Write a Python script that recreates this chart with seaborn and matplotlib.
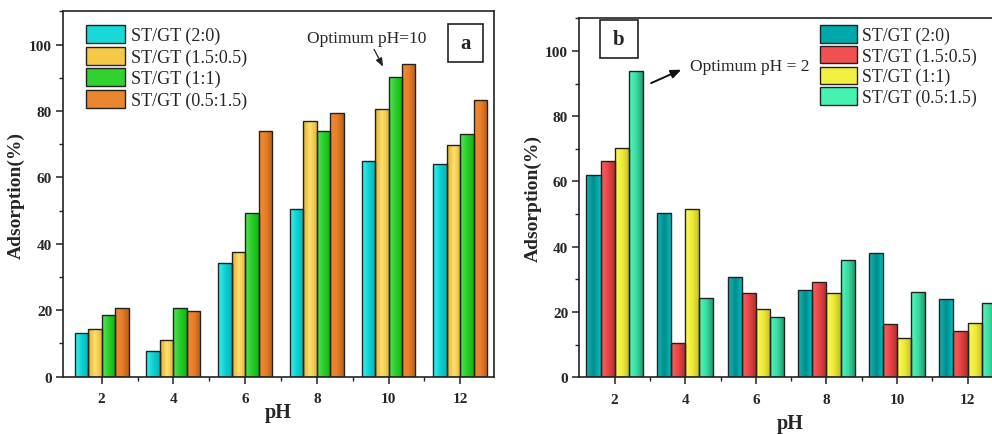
import numpy as np
import pandas as pd
import seaborn as sns
import matplotlib
matplotlib.use("Agg")
import matplotlib.pyplot as plt
from matplotlib.colors import to_rgb
from matplotlib.patches import Patch, Rectangle
from matplotlib.ticker import MultipleLocator

# ---------------- data ----------------
ph_labels = ["2", "4", "6", "8", "10", "12"]
series_names = ["ST/GT (2:0)", "ST/GT (1.5:0.5)", "ST/GT (1:1)", "ST/GT (0.5:1.5)"]

# panel a
a_2_0 = [13.1, 7.6, 34.1, 50.5, 64.8, 63.9]
a_15_05 = [14.3, 11.2, 37.5, 77.0, 80.6, 69.8]
a_1_1 = [18.7, 20.7, 49.2, 74.1, 90.2, 73.1]
a_05_15 = [20.6, 19.9, 74.1, 79.5, 94.2, 83.3]

# panel b
b_2_0 = [61.9, 50.4, 30.8, 26.9, 38.1, 23.9]
b_15_05 = [66.4, 10.5, 25.7, 29.1, 16.2, 14.3]
b_1_1 = [70.3, 51.6, 21.0, 25.9, 12.1, 16.6]
b_05_15 = [93.8, 24.3, 18.4, 36.0, 26.1, 22.7]

colors_a = ["#18d8d8", "#f5c846", "#2fd22f", "#ea8530"]
colors_b = ["#00a9a9", "#f05050", "#f4f040", "#45f2b2"]

grad_a = [["#38f4f4", "#10d0d0", "#00b8b8"],
          ["#e2ad2a", "#ffe070", "#e6b632"],
          ["#58e858", "#28cc28", "#10b810"],
          ["#f08c34", "#e87e28", "#b85e18"]]
grad_b = [["#18b8b8", "#008c8c", "#00c4c4"],
          ["#f86464", "#e84444", "#b02c2c"],
          ["#fcfc5a", "#eeea38", "#c4bc20"],
          ["#56f8bc", "#38dca0", "#1a9468"]]


def make_df(vals):
    rows = []
    for s, v in zip(series_names, vals):
        for p, y in zip(ph_labels, v):
            rows.append({"pH": p, "series": s, "val": y})
    return pd.DataFrame(rows)


df_a = make_df([a_2_0, a_15_05, a_1_1, a_05_15])
df_b = make_df([b_2_0, b_15_05, b_1_1, b_05_15])

sns.set_style("ticks")
plt.rcParams["font.family"] = ["Liberation Serif", "DejaVu Serif"]
plt.rcParams["axes.edgecolor"] = "#222222"
plt.rcParams["axes.linewidth"] = 1.2

fig = plt.figure(figsize=(9.92, 4.35), dpi=100)
fig.patch.set_facecolor("white")

ax_a = fig.add_axes([0.0638, 0.1317, 0.4342, 0.84])
ax_b = fig.add_axes([0.584, 0.1303, 0.4270, 0.8253])


def gradient_fill(ax, grads):
    for ci, cont in enumerate(ax.containers):
        stops = [np.array(to_rgb(c)) for c in grads[ci]]
        t = np.linspace(0, 1, 64)
        arr = np.zeros((1, 64, 3))
        for k, tt in enumerate(t):
            if tt < 0.5:
                w = tt / 0.5
                arr[0, k] = stops[0] * (1 - w) + stops[1] * w
            else:
                w = (tt - 0.5) / 0.5
                arr[0, k] = stops[1] * (1 - w) + stops[2] * w
        for p in cont.patches:
            x0, y0 = p.get_x(), p.get_y()
            w, h = p.get_width(), p.get_height()
            im = ax.imshow(arr, extent=[x0, x0 + w, y0, y0 + h], aspect="auto",
                           origin="lower", zorder=1.5, interpolation="bilinear")
            im.set_clip_path(p)
            p.set_facecolor("none")
            p.set_zorder(2)


def style_axes(ax, df, colors, grads, width, xlim):
    sns.barplot(data=df, x="pH", y="val", hue="series", order=ph_labels,
                hue_order=series_names, palette=colors, width=width,
                saturation=1, edgecolor="#222222", linewidth=1.0,
                errorbar=None, legend=False, ax=ax)
    gradient_fill(ax, grads)
    ax.set_xlim(*xlim)
    ax.set_ylim(0, 110)
    ax.set_yticks([0, 20, 40, 60, 80, 100])
    ax.yaxis.set_minor_locator(MultipleLocator(10))
    ax.set_xticks(np.arange(0.5, 5.0, 1.0), minor=True)
    ax.tick_params(axis="both", which="major", direction="out", length=5,
                   width=1.1, color="#222222", labelsize=11)
    ax.tick_params(axis="both", which="minor", direction="out", length=3,
                   width=1.0, color="#222222")
    ax.tick_params(axis="x", which="major", pad=6)
    ax.tick_params(axis="y", which="major", pad=3)
    for lbl in ax.get_xticklabels() + ax.get_yticklabels():
        lbl.set_fontweight("bold")
    for s in ax.spines.values():
        s.set_visible(True)
        s.set_linewidth(1.2)
        s.set_color("#222222")
    ax.set_ylabel("Adsorption(%)", fontsize=14, fontweight="bold")
    ax.set_xlabel("pH", fontsize=14.5, fontweight="bold")


style_axes(ax_a, df_a, colors_a, grad_a, 0.75, (-0.535, 5.47))
style_axes(ax_b, df_b, colors_b, grad_b, 0.80, (-0.5, 5.5))

ax_a.yaxis.set_label_coords(-0.089, 0.5)
ax_a.xaxis.set_label_coords(0.50, -0.069)
ax_b.yaxis.set_label_coords(-0.089, 0.501)
ax_b.xaxis.set_label_coords(0.499, -0.100)

# legends
handles_a = [Patch(facecolor=c, edgecolor="#222222", linewidth=1.0) for c in colors_a]
handles_b = [Patch(facecolor=c, edgecolor="#222222", linewidth=1.0) for c in colors_b]
ax_a.legend(handles_a, series_names, loc="upper left", bbox_to_anchor=(0.052, 0.962),
            frameon=False, fontsize=13, handlelength=2.2, handleheight=1.18,
            labelspacing=0.12, handletextpad=0.3, borderpad=0, borderaxespad=0)
ax_b.legend(handles_b, series_names, loc="upper left", bbox_to_anchor=(0.567, 0.981),
            frameon=False, fontsize=12.8, handlelength=2.1, handleheight=1.15,
            labelspacing=0.1, handletextpad=0.3, borderpad=0, borderaxespad=0)

# panel letters
ax_a.add_patch(Rectangle((0.8925, 0.862), 0.0813, 0.103, transform=ax_a.transAxes,
                         facecolor="white", edgecolor="#222222", lw=1.2, zorder=5))
ax_a.text(0.9332, 0.9135, "a", transform=ax_a.transAxes, ha="center", va="center",
          fontsize=15, fontweight="bold", zorder=6)
ax_b.add_patch(Rectangle((0.0489, 0.8886), 0.0897, 0.1067, transform=ax_b.transAxes,
                         facecolor="white", edgecolor="#222222", lw=1.2, zorder=5))
ax_b.text(0.0937, 0.942, "b", transform=ax_b.transAxes, ha="center", va="center",
          fontsize=15, fontweight="bold", zorder=6)

# annotations
ax_a.text(3.70, 102.0, "Optimum pH=10", ha="center", va="center", fontsize=12.5)
ax_a.annotate("", xy=(3.94, 92.6), xytext=(3.78, 99.3),
              arrowprops=dict(arrowstyle="-|>,head_length=0.5,head_width=0.2",
                              color="#222222", lw=0.9))
ax_b.text(1.065, 95.4, "Optimum pH = 2", ha="left", va="center", fontsize=12.5)
ax_b.annotate("", xy=(0.98, 94.6), xytext=(0.48, 89.8),
              arrowprops=dict(arrowstyle="-|>,head_length=0.6,head_width=0.25",
                              color="#111111", lw=1.4))

fig.savefig("out.png", dpi=100, facecolor="white")
